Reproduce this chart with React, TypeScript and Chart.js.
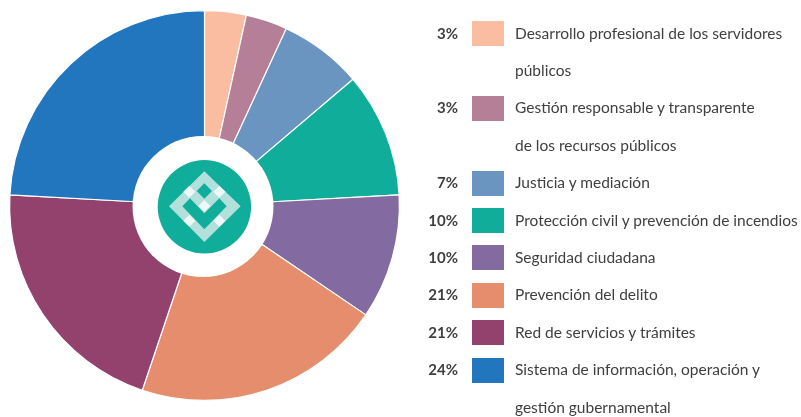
import React, { useEffect, useRef } from "react";
import { Chart, registerables } from "chart.js";

Chart.register(...registerables);

const categories: string[][] = [
  ["Desarrollo profesional de los servidores", "públicos"],
  ["Gestión responsable y transparente", "de los recursos públicos"],
  ["Justicia y mediación"],
  ["Protección civil y prevención de incendios"],
  ["Seguridad ciudadana"],
  ["Prevención del delito"],
  ["Red de servicios y trámites"],
  ["Sistema de información, operación y", "gestión gubernamental"],
];
const counts = [1, 1, 2, 3, 3, 6, 6, 7];
const percentLabels = ["3%", "3%", "7%", "10%", "10%", "21%", "21%", "24%"];
const colors = ["#fbbda2", "#b57f98", "#6a95c0", "#10ae9a", "#836ba2", "#e68d6e", "#93426e", "#2176bd"];

const FONT = "Lato, sans-serif";
const TEXT = "#3f3f3f";
const ROW = 37.4;
const FIRST_ROW = 33.5;

export default function App() {
  const ref = useRef<HTMLCanvasElement>(null);
  useEffect(() => {
    const chart = new Chart(ref.current!, {
      type: "doughnut",
      data: {
        labels: categories.map((c) => c.join(" ")),
        datasets: [{ data: counts, backgroundColor: colors, borderColor: "#ffffff", borderWidth: 1.2, hoverOffset: 0 }],
      },
      options: {
        responsive: false,
        animation: false,
        cutout: "33%",
        layout: { padding: { left: 9, right: 401, top: 10, bottom: 16 } },
        plugins: { legend: { display: false }, tooltip: { enabled: false } },
      },
    });
    return () => chart.destroy();
  }, []);

  let line = 0;
  const rows = categories.map((lines, i) => {
    const start = line;
    line += lines.length;
    const y = FIRST_ROW + ROW * start;
    return (
      <React.Fragment key={i}>
        <div style={{ position: "absolute", left: 400, width: 58, top: y - 12, height: 22, lineHeight: "22px", textAlign: "right", fontWeight: 700, fontSize: 15, color: TEXT }}>
          {percentLabels[i]}
        </div>
        <div style={{ position: "absolute", left: 472, width: 32, top: y - 12.5, height: 25, background: colors[i] }} />
        {lines.map((t, j) => (
          <div key={j} style={{ position: "absolute", left: 515, top: y + ROW * j - 12, height: 22, lineHeight: "22px", fontSize: 15.5, color: TEXT, whiteSpace: "nowrap" }}>
            {t}
          </div>
        ))}
      </React.Fragment>
    );
  });

  return (
    <div style={{ position: "fixed", left: 0, top: 0, width: 801, height: 417, overflow: "hidden", background: "#fff", fontFamily: FONT }}>
      <canvas ref={ref} width={801} height={417} style={{ position: "absolute", left: 0, top: 0 }} />
      <svg width={801} height={417} style={{ position: "absolute", left: 0, top: 0 }}>
        <circle cx={203} cy={206.5} r={70.5} fill="#ffffff" />
        <circle cx={204.4} cy={206.8} r={46.7} fill="#10ae9a" />
        <g transform="translate(130 130) scale(0.3333)">
          <path
            fill="#b2e0da"
            fillRule="evenodd"
            d="M223 124L332 229L223 336L117 229Z M223 160L246 183L223 206L200 183Z M157 229L180 205L223 250L268 205L290 229L223 298Z"
          />
          <g fill="#eef8f7">
            <path d="M178 167L196 185L178 203L160 185Z" />
            <path d="M268 167L286 185L268 203L250 185Z" />
            <path d="M223 210L241 228L223 246L205 228Z" />
            <path d="M178 254L196 272L178 290L160 272Z" />
            <path d="M268 254L286 272L268 290L250 272Z" />
          </g>
        </g>
      </svg>
      {rows}
    </div>
  );
}
